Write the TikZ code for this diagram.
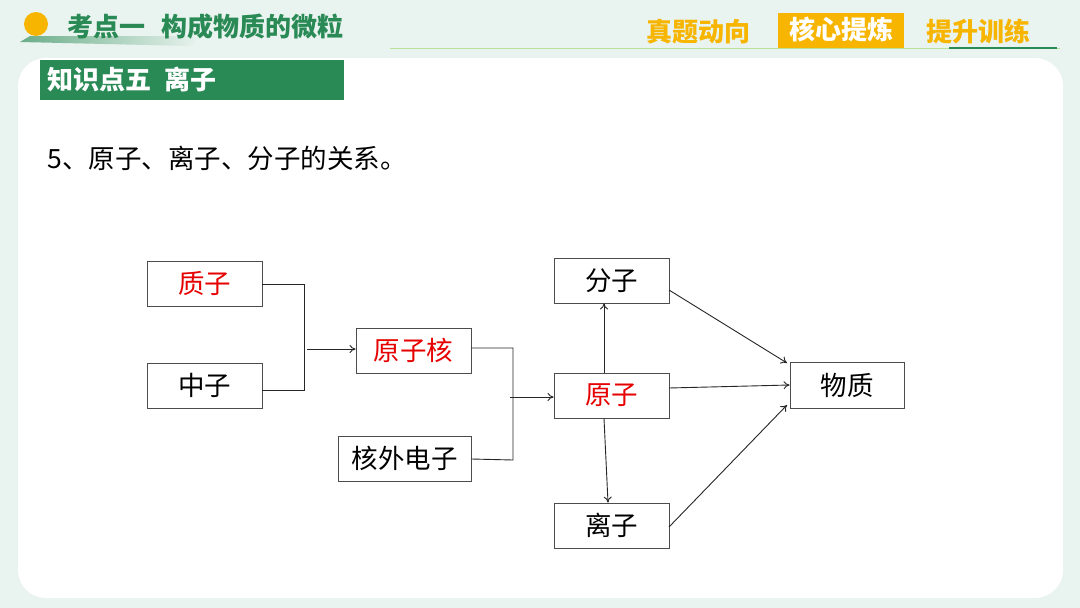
\documentclass[tikz,border=0pt]{standalone}
\usepackage{fontspec}
\setmainfont{Noto Sans CJK SC}
\usetikzlibrary{arrows.meta}
\definecolor{bg}{HTML}{E9F3EF}
\definecolor{dg}{HTML}{2A8A55}
\definecolor{og}{HTML}{F7B500}
\begin{document}
\begin{tikzpicture}[x=1pt,y=-1pt,
 box/.style={draw=black!70,line width=0.8pt,minimum width=115pt,minimum height=45pt,inner sep=0pt,font=\fontsize{26.5}{26.5}\selectfont},
 red/.style={text={rgb,255:red,230;green,0;blue,0}},
 ln/.style={draw=black!85,line width=0.9pt},
 ar/.style={ln,-{To[length=6pt,width=8pt]}}]
\useasboundingbox (0,0) rectangle (1080,608);
\fill[bg] (0,0) rectangle (1080,608);
\fill[white,rounded corners=28pt] (18,58) rectangle (1063,598);
\draw[green!40!olive!40,line width=0.5pt] (390,48) -- (1060,48);
\shade[left color=dg!70,right color=bg] (20,42) -- (30,36) -- (200,36) -- (190,46) -- cycle;
\fill[og] (36,24) circle (12);
\node[anchor=west,text=dg,font=\fontsize{26}{26}\selectfont\bfseries] (t) at (64,27) {考点一\hspace{0.6em}构成物质的微粒};
\node[anchor=west,text=og,font=\fontsize{26}{26}\selectfont\bfseries] (t1) at (643,32) {真题动向};
\node[fill=og,text=white,font=\fontsize{26}{26}\selectfont\bfseries,minimum width=126pt,minimum height=35pt,inner sep=0pt] (t2) at (841,30) {核心提炼};
\node[anchor=west,text=og,font=\fontsize{26}{26}\selectfont\bfseries] (t3) at (923,31) {提升训练};
\draw[dg,line width=2.5pt] (949,48) -- (1057,48);
\node[fill=dg,text=white,anchor=north west,minimum width=304pt,minimum height=40pt,inner sep=0pt] (k) at (40,60) {};
\node[anchor=west,text=white,font=\fontsize{26}{26}\selectfont\bfseries] at (44,80) {知识点五\hspace{0.5em}离子};
\node[anchor=west,font=\fontsize{26.5}{26.5}\selectfont] (q) at (44,158) {5、原子、离子、分子的关系。};
\node[box,red] (zz) at (204.5,283.5) {质子};
\node[box] (zh) at (204.5,385.5) {中子};
\node[box,red] (yzh) at (413.5,350.5) {原子核};
\node[box,minimum width=133pt] (hw) at (404.5,458.5) {核外电子};
\node[box] (fz) at (611.5,280.5) {分子};
\node[box,red] (yz) at (611.5,395.5) {原子};
\node[box] (lz) at (611.5,525.5) {离子};
\node[box,minimum width=114pt,minimum height=46pt] (wz) at (847,385) {物质};
\coordinate (a1) at (307,349); \coordinate (a2) at (510,397);
\draw[ln] (zz.east |- 0,284) -- (304,284) -- (304,390) -- (zh.east |- 0,390);
\draw[ar] (a1) -- (yzh.west |- a1);
\draw[ln] (yzh.east |- 0,348) -- (513,348) -- (513,460) -- (hw.east |- 0,459);
\draw[ar] (a2) -- (yz.west |- a2);
\draw[ar] (yz.north -| 604,0) -- (fz.south -| 604,0);
\draw[ar] (yz.south -| 604,0) -- (lz.north -| 608,0);
\draw[ar] (669,290) -- (787,363);
\draw[ar] (669,388) -- (wz.west);
\draw[ar] (669,527) -- (787,405);
\end{tikzpicture}
\end{document}
